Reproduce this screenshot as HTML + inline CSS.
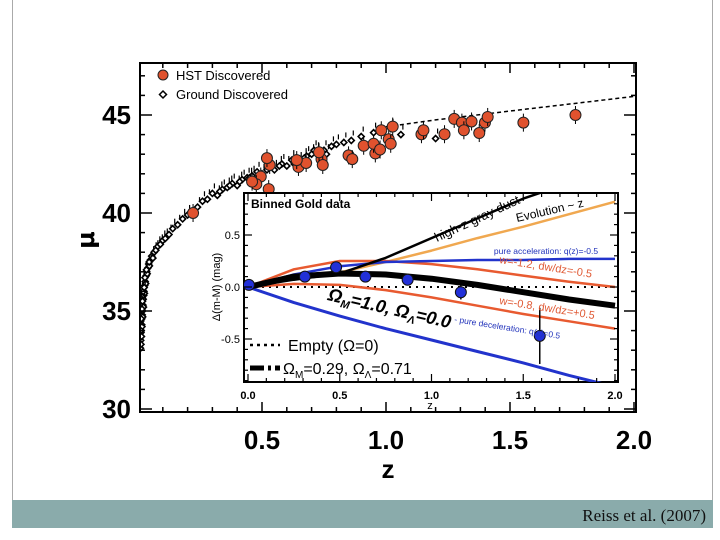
<!DOCTYPE html>
<html><head><meta charset="utf-8"><style>
html,body{margin:0;padding:0;background:#fff;}
svg{display:block;}
.big{font-family:"Liberation Sans Narrow","Liberation Sans",sans-serif;font-weight:bold;}
.sm{font-family:"Liberation Sans",sans-serif;}
</style></head><body>
<svg id="chart" width="720" height="540" viewBox="0 0 720 540" xmlns="http://www.w3.org/2000/svg">
<defs>
<clipPath id="mainClip"><rect x="140" y="63" width="496" height="349"/></clipPath>
<clipPath id="insetClip"><rect x="244" y="193" width="374" height="189"/></clipPath>
</defs>
<rect x="0" y="0" width="720" height="540" fill="#fff"/>
<line x1="12.5" y1="0" x2="12.5" y2="528" stroke="#aaa"/>
<line x1="712.5" y1="0" x2="712.5" y2="528" stroke="#aaa"/>
<rect x="12" y="500" width="701" height="28" fill="#8aabab"/>
<text x="706" y="521" text-anchor="end" font-family="Liberation Serif, serif" font-size="17" fill="#111">Reiss et al. (2007)</text>

<g id="mainData" clip-path="url(#mainClip)"></g>
<rect x="140" y="63" width="496" height="349" fill="none" stroke="#000" stroke-width="2"/>
<g id="mainAxes"></g>
<text x="388" y="478" text-anchor="middle" class="big" font-size="26">z</text>
<text x="0" y="0" transform="translate(94,240) rotate(-90)" text-anchor="middle" font-family="DejaVu Sans, sans-serif" font-weight="bold" font-size="24">μ</text>

<g>
<circle cx="163" cy="75" r="5" fill="#e0522e" stroke="#222" stroke-width="1"/>
<text x="176" y="80" class="sm" font-size="13">HST Discovered</text>
<path d="M163 91 L166.5 94.5 L163 98 L159.5 94.5 Z" fill="#fff" stroke="#000" stroke-width="1.5"/>
<text x="176" y="99" class="sm" font-size="13">Ground Discovered</text>
</g>

<rect x="244" y="193" width="374" height="189" fill="#fff" stroke="#000" stroke-width="2"/>
<g id="insetData" clip-path="url(#insetClip)"></g>
<g id="insetAxes"></g>
<text x="0" y="0" transform="translate(220,287) rotate(-90)" text-anchor="middle" class="sm" font-size="11">Δ(m-M) (mag)</text>
<text x="430" y="409" text-anchor="middle" class="sm" font-size="11">z</text>
<text x="251" y="208" class="sm" font-size="12" font-weight="bold">Binned Gold data</text>
<text transform="translate(437,242) rotate(-25)" class="sm" font-size="13">high-z gray dust</text>
<text transform="translate(517,222) rotate(-13)" class="sm" font-size="12">Evolution ~ z</text>
<text x="546" y="254" text-anchor="middle" class="sm" font-size="8.5" fill="#2233bb">pure acceleration: q(z)=-0.5</text>
<text transform="translate(499,263) rotate(9)" class="sm" font-size="11" fill="#e05a35">w=-1.2, dw/dz=-0.5</text>
<text transform="translate(499,304) rotate(9)" class="sm" font-size="11" fill="#e05a35">w=-0.8, dw/dz=+0.5</text>
<text transform="translate(327,300) rotate(13)" class="sm" font-size="18" font-weight="bold" font-style="italic">Ω<tspan font-size="11" dy="4">M</tspan><tspan dy="-4">=1.0, Ω</tspan><tspan font-size="11" dy="4">Λ</tspan><tspan dy="-4">=0.0</tspan></text>
<text transform="translate(454,322) rotate(9)" class="sm" font-size="8.5" fill="#2233bb">- pure deceleration: q(z)=0.5</text>
<g>
<line x1="250" y1="345" x2="280" y2="345" stroke="#000" stroke-width="2.5" stroke-dasharray="3,4"/>
<text x="288" y="351" class="sm" font-size="16">Empty (Ω=0)</text>
<line x1="250" y1="368" x2="280" y2="368" stroke="#000" stroke-width="5" stroke-dasharray="14,4,3,4"/>
<text x="283" y="374" class="sm" font-size="16">Ω<tspan font-size="10" dy="4">M</tspan><tspan dy="-4">=0.29, Ω</tspan><tspan font-size="10" dy="4">Λ</tspan><tspan dy="-4">=0.71</tspan></text>
</g>
</svg>
<script>
// ---- main Hubble diagram data ----
const hstZ  = [0.222,0.495,0.477,0.531,0.527,0.647,0.678,0.740,0.745,0.849,0.864,0.910,0.957,0.950,0.976,0.981,1.011,1.027,1.019,1.143,1.151,1.236,1.275,1.306,1.314,1.345,1.376,1.399,1.410,1.554,1.764,0.46,0.52,0.64,0.73];
const hstMu = [40.0,41.86,41.47,42.45,41.22,42.35,42.55,42.75,42.45,42.94,42.75,43.43,43.04,43.53,43.24,44.22,43.76,44.41,43.53,44.02,44.22,44.02,44.80,44.61,44.22,44.67,44.08,44.61,44.90,44.61,45.0,41.6,42.8,42.7,43.1];
const groundZ  = [0.010,0.011,0.012,0.012,0.013,0.014,0.015,0.015,0.016,0.017,0.018,0.019,0.020,0.021,0.022,0.023,0.024,0.026,0.027,0.029,0.031,0.033,0.035,0.037,0.040,0.043,0.046,0.050,0.055,0.060,0.065,0.072,0.080,0.090,0.100,0.110,0.125,0.14,0.16,0.18,0.20,0.24,0.26,0.28,0.30,0.32,0.34,0.36,0.38,0.40,0.42,0.44,0.46,0.48,0.50,0.53,0.55,0.58,0.60,0.62,0.65,0.68,0.70,0.72,0.75,0.78,0.80,0.83,0.86,0.90,0.95,1.02,1.06,1.20,0.011,0.013,0.016,0.018,0.021,0.025,0.028,0.034,0.045,0.33,0.37,0.41,0.45,0.52,0.57,0.63,0.67,0.71,0.76];
const groundMu = [33.1,33.5,33.3,33.9,34.0,33.7,34.3,34.6,34.2,34.8,35.0,34.7,35.3,35.6,35.2,35.8,36.0,35.9,36.3,36.5,36.4,36.8,37.0,36.9,37.2,37.4,37.3,37.6,37.8,37.7,38.0,38.1,38.3,38.4,38.6,38.7,38.9,39.2,39.4,39.7,39.9,40.3,40.6,40.7,41.0,40.9,41.2,41.3,41.5,41.4,41.7,41.8,41.9,42.1,42.0,42.3,42.2,42.5,42.4,42.7,42.6,42.9,43.0,43.1,43.2,43.4,43.5,43.6,43.7,43.9,44.1,44.3,44.0,43.8,34.0,34.6,35.1,35.5,36.0,36.2,36.7,37.1,37.5,41.1,41.4,41.6,41.8,42.2,42.4,42.5,42.8,43.2,43.0];
const modelZ  = [1.0,1.2,1.4,1.6,1.8,2.0];
const modelMu = [44.4,44.75,45.05,45.35,45.65,45.95];
const mainXTicks = [0.5,1.0,1.5,2.0];
const mainXTickLabels = ["0.5","1.0","1.5","2.0"];
const mainYTicks = [30,35,40,45];
const mainYTickLabels = ["30","35","40","45"];

// ---- inset data ----
const curveZ = [0,0.25,0.5,0.75,1.0,1.25,1.5,1.75,2.0];
const dustCurve  = [0,0.07,0.13,0.28,0.47,0.66,0.85,1.0,1.15];
const evolCurve  = [0,0.08,0.14,0.24,0.35,0.47,0.58,0.70,0.82];
const accelCurve = [0,0.12,0.20,0.24,0.25,0.26,0.26,0.27,0.27];
const w12Curve   = [0,0.17,0.25,0.25,0.22,0.17,0.11,0.05,0.0];
const w08Curve   = [0,0.03,0.02,-0.03,-0.10,-0.18,-0.26,-0.33,-0.40];
const lcdmCurve  = [0,0.10,0.13,0.12,0.08,0.02,-0.05,-0.12,-0.18];
const decelCurve = [0,-0.15,-0.28,-0.40,-0.51,-0.62,-0.73,-0.85,-0.96];
const binZ   = [0.005,0.31,0.48,0.64,0.87,1.16,1.59];
const binVal = [0.02,0.10,0.19,0.10,0.07,-0.05,-0.47];
const binErr = [0.03,0.04,0.04,0.04,0.05,0.07,0.27];
const insetXTicks = [0,0.5,1.0,1.5,2.0];
const insetXTickLabels = ["0.0","0.5","1.0","1.5","2.0"];
const insetYTicks = [-0.5,0,0.5];
const insetYTickLabels = ["-0.5","0.0","0.5"];

const NS = "http://www.w3.org/2000/svg";
function mx(z){return 138+248*z;}
function my(mu){return 115+(45-mu)*19.6;}
function ix(z){return 248+183.5*z;}
function iy(v){return 287-104*v;}
function mk(tag, attrs, parent){const e=document.createElementNS(NS,tag);for(const k in attrs)e.setAttribute(k,attrs[k]);parent.appendChild(e);return e;}

const mainData=document.getElementById('mainData');
const mainAxes=document.getElementById('mainAxes');
const insetData=document.getElementById('insetData');
const insetAxes=document.getElementById('insetAxes');

let p=modelZ.map((z,i)=>(i?'L':'M')+mx(z).toFixed(1)+' '+my(modelMu[i]).toFixed(1)).join(' ');
const ml=mk('path',{d:p,fill:'none',stroke:'#000','stroke-width':1.5,'stroke-dasharray':'4,3'},mainData);



groundZ.forEach((z,i)=>{
  const x=mx(z), y=my(groundMu[i]);
  const eb=mk('line',{x1:x+2,y1:y-10,x2:x+2,y2:y-5,stroke:'#000','stroke-width':1.2},mainData);
  
  
  const d=mk('path',{d:`M${x} ${y-3} L${x+3} ${y} L${x} ${y+3} L${x-3} ${y} Z`,fill:'#fff',stroke:'#000','stroke-width':1.6},mainData);
  
  
});
hstZ.forEach((z,i)=>{
  const x=mx(z), y=my(hstMu[i]);
  const eb=mk('line',{x1:x,y1:y-9,x2:x,y2:y+9,stroke:'#000','stroke-width':1},mainData);
  
  
  const c=mk('circle',{cx:x,cy:y,r:5.5,fill:'#e0522e',stroke:'#222','stroke-width':1},mainData);
  
  
});

for(let k=1;k<=20;k++){
  const z=k/10, x=mx(z), len=(k%5===0)?10:5;
  const t1=mk('line',{x1:x,y1:412,x2:x,y2:412-len,stroke:'#000','stroke-width':1.5},mainAxes);
  
  
  const t2=mk('line',{x1:x,y1:63,x2:x,y2:63+len,stroke:'#000','stroke-width':1.5},mainAxes);
  
  
}
for(let mu=30;mu<=47;mu++){
  const y=my(mu), len=(mu%5===0)?12:5;
  const t1=mk('line',{x1:140,y1:y,x2:140+len,y2:y,stroke:'#000','stroke-width':1.5},mainAxes);
  
  
  const t2=mk('line',{x1:636,y1:y,x2:636-len,y2:y,stroke:'#000','stroke-width':1.5},mainAxes);
  
  
}
mainXTicks.forEach((z,i)=>{
  const t=mk('text',{x:mx(z),y:449,'text-anchor':'middle','font-size':26,class:'big'},mainAxes);
  t.textContent=mainXTickLabels[i];
  
  
});
mainYTicks.forEach((m,i)=>{
  const t=mk('text',{x:131,y:my(m)+9,'text-anchor':'end','font-size':26,class:'big'},mainAxes);
  t.textContent=mainYTickLabels[i];
  
  
});

function curve(vals,color,w,name,dash){
  const d=curveZ.map((z,i)=>(i?'L':'M')+ix(z).toFixed(1)+' '+iy(vals[i]).toFixed(1)).join(' ');
  const attrs={d:d,fill:'none',stroke:color,'stroke-width':w,'stroke-linejoin':'round'};
  if(dash)attrs['stroke-dasharray']=dash;
  const e=mk('path',attrs,insetData);
  
  
}
const empty=mk('line',{x1:ix(0),y1:iy(0),x2:ix(2),y2:iy(0),stroke:'#000','stroke-width':2,'stroke-dasharray':'2,5'},insetData);


curve(evolCurve,'#f0a850',2.5,'evolution-curve');
curve(w12Curve,'#e85a30',2.5,'w-minus-1-2-curve');
curve(w08Curve,'#e85a30',2.5,'w-minus-0-8-curve');
curve(accelCurve,'#2233cc',2.5,'pure-acceleration-curve');
curve(dustCurve,'#000',2.5,'gray-dust-curve');
curve(decelCurve,'#2233cc',3,'omega-m-1-curve');
curve(lcdmCurve,'#000',6,'lcdm-curve');
binZ.forEach((z,i)=>{
  const x=ix(z), y=iy(binVal[i]);
  const eb=mk('line',{x1:x,y1:iy(binVal[i]+binErr[i]),x2:x,y2:iy(binVal[i]-binErr[i]),stroke:'#000','stroke-width':1.5},insetData);
  
  
  const c=mk('circle',{cx:x,cy:y,r:5.5,fill:'#2230d8',stroke:'#111','stroke-width':1},insetData);
  
  
});
for(let k=0;k<=20;k++){
  const x=ix(k/10), len=(k%5===0)?8:4;
  const t1=mk('line',{x1:x,y1:382,x2:x,y2:382-len,stroke:'#000','stroke-width':1.2},insetAxes);
  
  
  const t2=mk('line',{x1:x,y1:193,x2:x,y2:193+len,stroke:'#000','stroke-width':1.2},insetAxes);
  
  
}
for(let k=-9;k<=8;k++){
  const y=iy(k/10), len=(k%5===0)?8:4;
  const t1=mk('line',{x1:244,y1:y,x2:244+len,y2:y,stroke:'#000','stroke-width':1.2},insetAxes);
  
  
  const t2=mk('line',{x1:618,y1:y,x2:618-len,y2:y,stroke:'#000','stroke-width':1.2},insetAxes);
  
  
}
insetXTicks.forEach((z,i)=>{
  const t=mk('text',{x:ix(z),y:399,'text-anchor':'middle','font-size':11,'font-weight':'bold',class:'sm'},insetAxes);
  t.textContent=insetXTickLabels[i];
  
  
});
insetYTicks.forEach((v,i)=>{
  const t=mk('text',{x:240,y:iy(v)+4,'text-anchor':'end','font-size':11,class:'sm'},insetAxes);
  t.textContent=insetYTickLabels[i];
  
  
});
</script>
</body></html>
